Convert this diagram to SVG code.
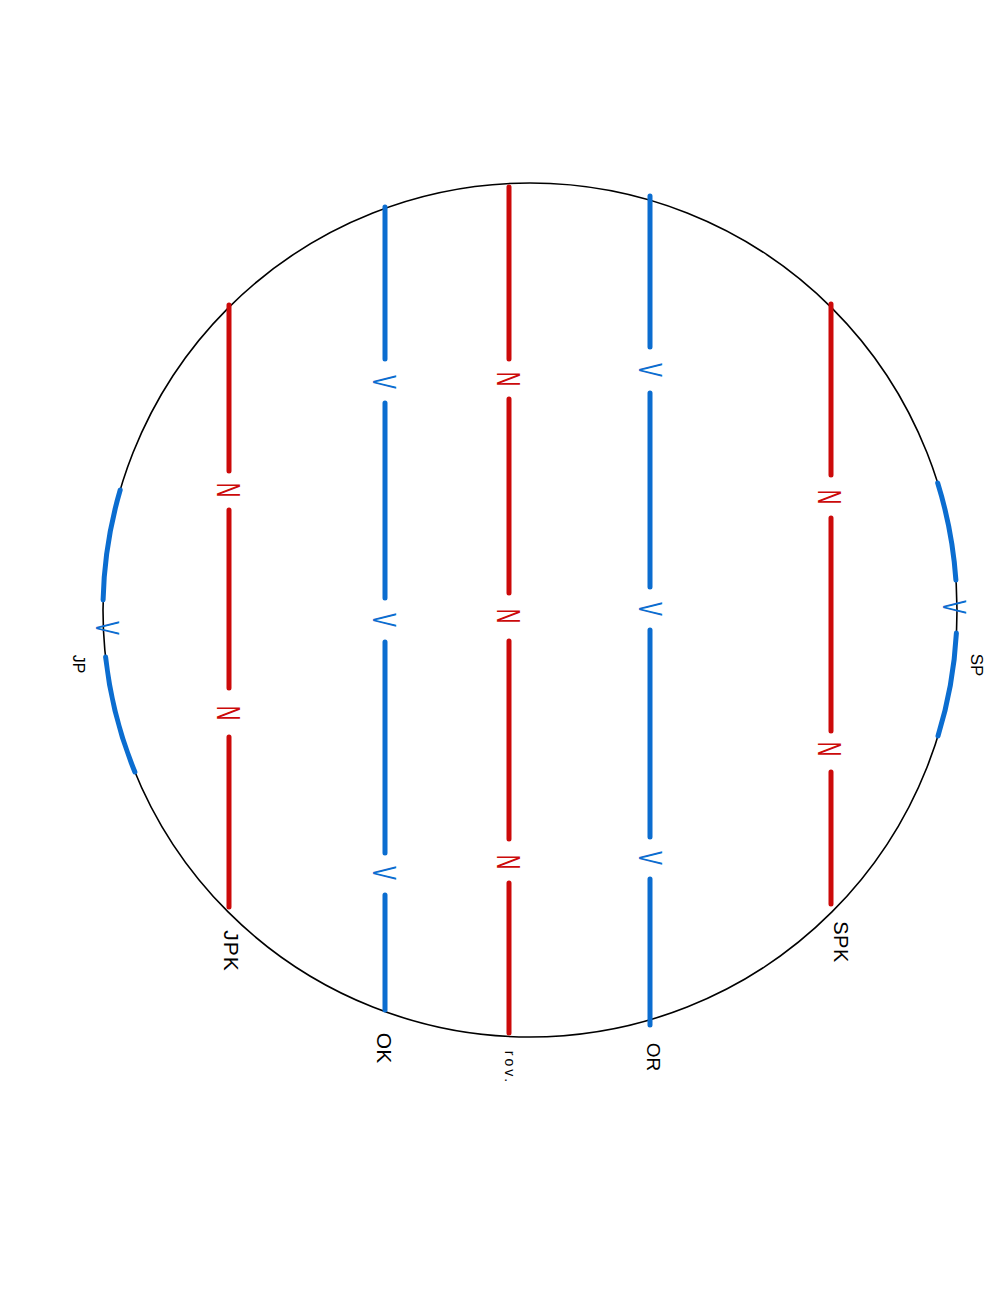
<svg xmlns="http://www.w3.org/2000/svg" width="1000" height="1302" viewBox="0 0 1000 1302">
<style>
.red{stroke:#cc0a0a;stroke-width:5;stroke-linecap:round;fill:none}
.blue{stroke:#0b6dd0;stroke-width:5;stroke-linecap:round;fill:none}
.rim{stroke:#000;stroke-width:1.6;fill:none}
.mr{fill:#cc0a0a;font-family:"Liberation Sans",Arial,sans-serif;font-size:34px;text-anchor:middle;dominant-baseline:central}
.mb{fill:#0b6dd0;font-family:"Liberation Sans",Arial,sans-serif;font-size:34px;text-anchor:middle;dominant-baseline:central}
.lbl{fill:#000;font-family:"Liberation Sans",Arial,sans-serif;text-anchor:middle;dominant-baseline:central}
</style>
<rect width="1000" height="1302" fill="#fff"/>
<g id="rim"><circle class="rim" cx="530" cy="610" r="427"/></g>
<g id="connectors">
  <!-- JPK red line -->
  <path class="red" d="M229,305 V471 M229,510 V688 M229,737 V907"/>
  <!-- OK blue line -->
  <path class="blue" d="M385,207 V359 M385,403 V598 M385,642 V853 M385,895 V1010"/>
  <!-- rov. red line -->
  <path class="red" d="M509,187 V359 M509,399 V593 M509,641 V839 M509,883 V1033"/>
  <!-- OR blue line -->
  <path class="blue" d="M650,196 V347 M650,393 V587 M650,630 V837 M650,879 V1025"/>
  <!-- SPK red line -->
  <path class="red" d="M831,304 V475 M831,518 V731 M831,772 V904"/>
  <!-- SP arcs -->
  <path class="blue" d="M937.7,483 A427,427 0 0 1 955.9,580 M956.4,633 A427,427 0 0 1 938,736"/>
  <!-- JP arcs -->
  <path class="blue" d="M120.2,490 A427,427 0 0 0 103.1,600 M105.6,657 A427,427 0 0 0 134.9,772"/>
</g>
<g id="marks">
  <text class="mr" transform="translate(229,490) rotate(90) scale(0.6,1)">N</text>
  <text class="mr" transform="translate(229,713) rotate(90) scale(0.6,1)">N</text>
  <text class="mb" transform="translate(385,382) rotate(90) scale(0.6,1)">V</text>
  <text class="mb" transform="translate(385,620) rotate(90) scale(0.6,1)">V</text>
  <text class="mb" transform="translate(385,873) rotate(90) scale(0.6,1)">V</text>
  <text class="mr" transform="translate(509,379) rotate(90) scale(0.6,1)">N</text>
  <text class="mr" transform="translate(509,616) rotate(90) scale(0.6,1)">N</text>
  <text class="mr" transform="translate(509,862) rotate(90) scale(0.6,1)">N</text>
  <text class="mb" transform="translate(651,370) rotate(90) scale(0.6,1)">V</text>
  <text class="mb" transform="translate(651,609) rotate(90) scale(0.6,1)">V</text>
  <text class="mb" transform="translate(651,858) rotate(90) scale(0.6,1)">V</text>
  <text class="mr" transform="translate(830,497) rotate(90) scale(0.6,1)">N</text>
  <text class="mr" transform="translate(830,749) rotate(90) scale(0.6,1)">N</text>
  <text class="mb" transform="translate(955,607) rotate(90) scale(0.6,1)">V</text>
  <text class="mb" transform="translate(108,628) rotate(90) scale(0.6,1)">V</text>
</g>
<g id="node-JP"><text class="lbl" font-size="16" transform="translate(78,664) rotate(90)">JP</text></g>
<g id="node-SP"><text class="lbl" font-size="17" transform="translate(976,665) rotate(90)">SP</text></g>
<g id="node-JPK"><text class="lbl" font-size="21" letter-spacing="1" transform="translate(231,951) rotate(90)">JPK</text></g>
<g id="node-OK"><text class="lbl" font-size="21" transform="translate(384,1048) rotate(90)">OK</text></g>
<g id="node-rov"><text class="lbl" font-size="14" letter-spacing="3" transform="translate(510,1068) rotate(90)">rov.</text></g>
<g id="node-OR"><text class="lbl" font-size="19" transform="translate(653,1057) rotate(90)">OR</text></g>
<g id="node-SPK"><text class="lbl" font-size="20" letter-spacing="0.5" transform="translate(841,942) rotate(90)">SPK</text></g>
</svg>
